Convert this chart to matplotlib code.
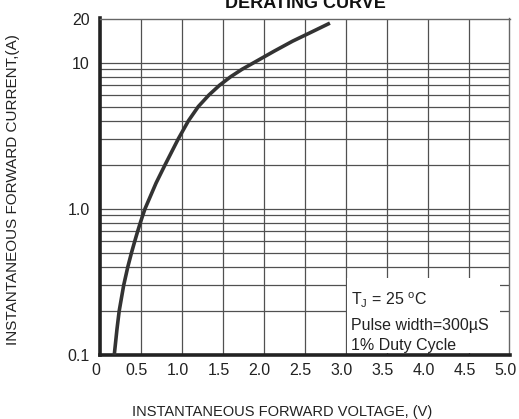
import matplotlib
matplotlib.use("Agg")
import matplotlib.pyplot as plt
from matplotlib.patches import Rectangle
from matplotlib.ticker import FixedLocator, NullFormatter
from matplotlib.transforms import ScaledTranslation

plt.rcParams['font.family'] = ['Liberation Sans', 'DejaVu Sans']

# Data (forward voltage at given current)
current = [0.10, 0.15, 0.20, 0.30, 0.40, 0.50, 0.60, 0.70, 0.80, 0.90, 1.0, 1.5,
           2.0, 3.0, 4.0, 5.0, 6.0, 7.0, 8.0, 9.0, 10.0, 12.0, 14.0, 16.0, 18.6]
voltage = [0.18, 0.213, 0.24, 0.295, 0.345, 0.39, 0.43, 0.465, 0.497, 0.527, 0.555,
           0.69, 0.80, 0.96, 1.085, 1.205, 1.335, 1.465, 1.60, 1.74, 1.885, 2.135,
           2.355, 2.57, 2.81]

x_ticks = [0, 0.5, 1.0, 1.5, 2.0, 2.5, 3.0, 3.5, 4.0, 4.5, 5.0]
x_labels = ["0", "0.5", "1.0", "1.5", "2.0", "2.5", "3.0", "3.5", "4.0", "4.5", "5.0"]
y_ticks = [0.1, 1.0, 10, 20]
y_labels = ["0.1", "1.0", "10", "20"]
y_minor = [0.2, 0.3, 0.4, 0.5, 0.6, 0.7, 0.8, 0.9, 2, 3, 4, 5, 6, 7, 8, 9]

W, H = 519, 419
fig = plt.figure(figsize=(W / 100, H / 100), dpi=100)
ax = fig.add_axes([99.5 / W, 1 - 355 / H, (509.5 - 99.5) / W, (355 - 18.5) / H])

ax.set_yscale('log')
ax.set_xlim(0, 5.0)
ax.set_ylim(0.1, 20)

ax.grid(True, which='both', color='#505050', lw=0.9)
ax.set_axisbelow(True)
ax.tick_params(which='both', length=0, colors='#222222')
ax.tick_params(axis='x', pad=6)
ax.tick_params(axis='y', pad=7)

ax.xaxis.set_major_locator(FixedLocator(x_ticks))
ax.set_xticklabels(x_labels, fontsize=11.5)
ax.yaxis.set_major_locator(FixedLocator(y_ticks))
ax.yaxis.set_minor_locator(FixedLocator(y_minor))
ax.yaxis.set_minor_formatter(NullFormatter())
ax.set_yticklabels(y_labels, fontsize=11.5)

shift = ScaledTranslation(-4 / 100, 0, fig.dpi_scale_trans)
for tick in ax.xaxis.get_major_ticks():
    tick.label1.set_transform(tick.label1.get_transform() + shift)

for s in ['left', 'bottom']:
    ax.spines[s].set_linewidth(2.6)
    ax.spines[s].set_color('#222222')
for s in ['top', 'right']:
    ax.spines[s].set_linewidth(1.0)
    ax.spines[s].set_color('#666666')

# White box behind annotation
ax.add_patch(Rectangle((3.02, 0.104), 1.86, 0.336 - 0.104, facecolor='white',
                       edgecolor='none', zorder=1.5))

ax.plot(voltage, current, color='#333333', lw=2.6, solid_capstyle='butt',
        solid_joinstyle='round', zorder=3)

ax.text(3.07, 0.235, r"T$_\mathregular{J}$ = 25 $^\mathregular{o}$C", fontsize=11.5,
        va='center', ha='left', color='#222222', zorder=4)
ax.text(3.07, 0.160, "Pulse width=300µS", fontsize=11.5, va='center', ha='left',
        color='#222222', zorder=4)
ax.text(3.07, 0.117, "1% Duty Cycle", fontsize=11.5, va='center', ha='left',
        color='#222222', zorder=4)

fig.text(305 / W, 1 - 8 / H, "DERATING CURVE", fontsize=13, fontweight='bold',
         ha='center', va='baseline', color='#111111')
fig.text(282 / W, 1 - 412 / H, "INSTANTANEOUS FORWARD VOLTAGE, (V)", fontsize=10.5,
         ha='center', va='center', color='#222222')
fig.text(13 / W, 1 - 190 / H, "INSTANTANEOUS FORWARD CURRENT,(A)", fontsize=11,
         ha='center', va='center', rotation=90, color='#222222')

fig.savefig("out.png", dpi=100)
